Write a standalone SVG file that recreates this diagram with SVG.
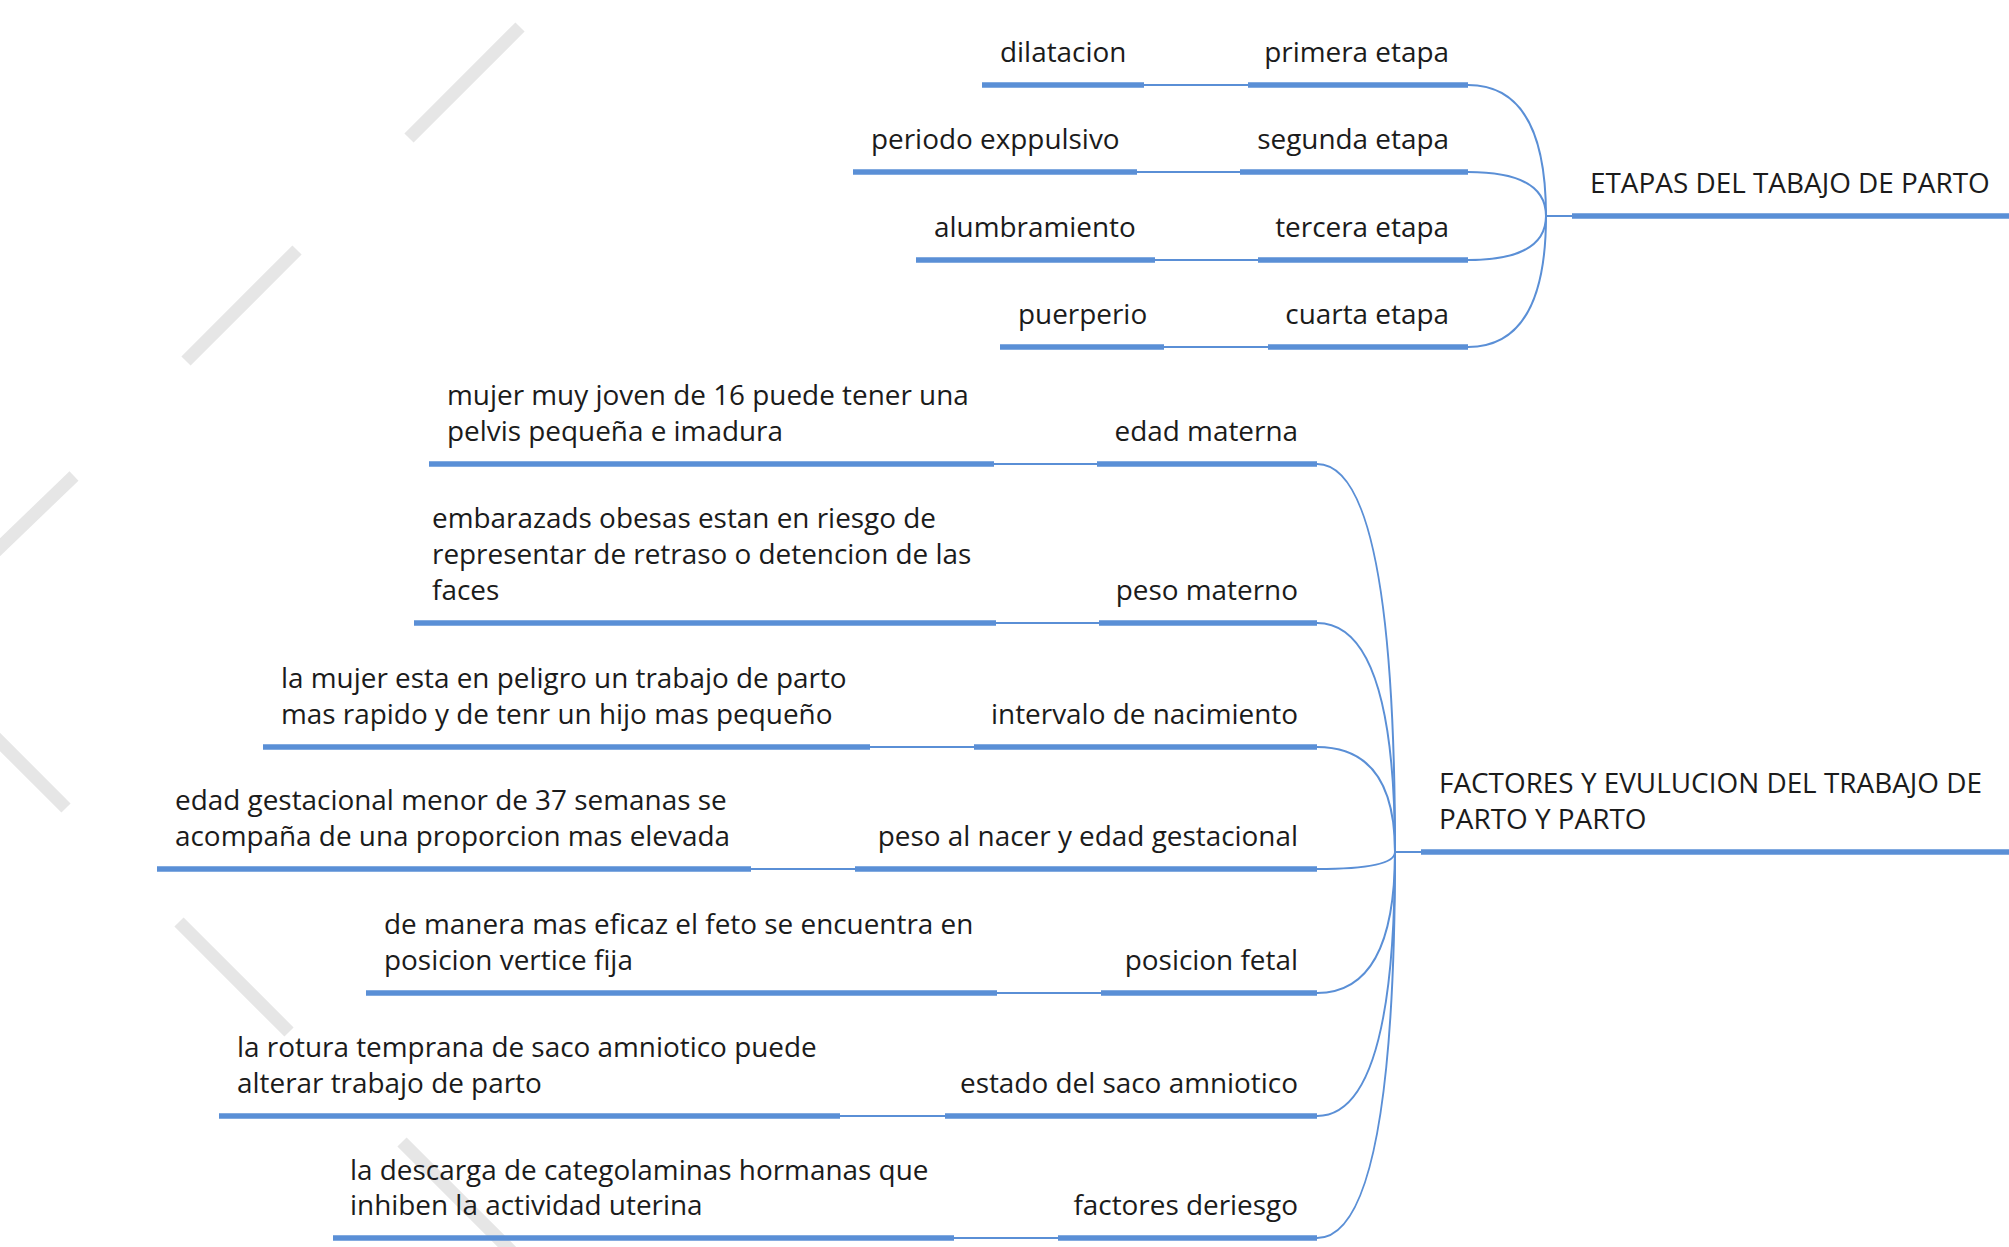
<svg xmlns="http://www.w3.org/2000/svg" width="2009" height="1247" viewBox="0 0 2009 1247">
<style>
text{font-family:"Open Sans","Noto Sans","Liberation Sans",sans-serif;font-size:27.9px;fill:#1b1b1b}
.u{stroke:#5a8fd6;stroke-width:5.5;fill:none}
.c{stroke:#5a8fd6;stroke-width:2;fill:none}
.w{stroke:#e6e6e6;stroke-width:13;fill:none}
.e{text-anchor:end}
</style>
<rect width="2009" height="1247" fill="#ffffff"/>
<g id="watermark">
<line class="w" x1="409" y1="138" x2="520" y2="27"/>
<line class="w" x1="186" y1="361" x2="297" y2="250"/>
<line class="w" x1="-5" y1="552" x2="74" y2="476"/>
<line class="w" x1="-5" y1="737" x2="66" y2="808"/>
<line class="w" x1="179" y1="922" x2="289" y2="1032"/>
<line class="w" x1="402" y1="1142" x2="512" y2="1252"/>
</g>
<g id="connectors">
<path class="c" d="M1546,216 H1572"/>
<path class="c" d="M1468,85 Q1546,85 1546,216"/>
<path class="c" d="M1468,172 Q1546,172 1546,216"/>
<path class="c" d="M1468,260 Q1546,260 1546,216"/>
<path class="c" d="M1468,347 Q1546,347 1546,216"/>
<path class="c" d="M1144,85 H1248"/>
<path class="c" d="M1137,172 H1240"/>
<path class="c" d="M1155,260 H1258"/>
<path class="c" d="M1164,347 H1268"/>
<path class="c" d="M1395,852 H1421"/>
<path class="c" d="M1317,464 Q1395,464 1395,852"/>
<path class="c" d="M1317,623 Q1395,623 1395,852"/>
<path class="c" d="M1317,747 Q1395,747 1395,852"/>
<path class="c" d="M1317,869 Q1395,869 1395,852"/>
<path class="c" d="M1317,993 Q1395,993 1395,852"/>
<path class="c" d="M1317,1116 Q1395,1116 1395,852"/>
<path class="c" d="M1317,1238 Q1395,1238 1395,852"/>
<path class="c" d="M994,464 H1097"/>
<path class="c" d="M996,623 H1099"/>
<path class="c" d="M870,747 H974"/>
<path class="c" d="M751,869 H855"/>
<path class="c" d="M997,993 H1101"/>
<path class="c" d="M840,1116 H945"/>
<path class="c" d="M954,1238 H1058"/>
</g>
<g id="etapas">
<line class="u" x1="1572" y1="216" x2="2009" y2="216"/>
<text x="1590" y="193">ETAPAS DEL TABAJO DE PARTO</text>
</g>
<g id="primera-etapa">
<line class="u" x1="1248" y1="85" x2="1468" y2="85"/>
<text class="e" x="1449" y="62">primera etapa</text>
</g>
<g id="dilatacion">
<line class="u" x1="982" y1="85" x2="1144" y2="85"/>
<text x="1000" y="62">dilatacion</text>
</g>
<g id="segunda-etapa">
<line class="u" x1="1240" y1="172" x2="1468" y2="172"/>
<text class="e" x="1449" y="149">segunda etapa</text>
</g>
<g id="periodo">
<line class="u" x1="853" y1="172" x2="1137" y2="172"/>
<text x="871" y="149">periodo exppulsivo</text>
</g>
<g id="tercera-etapa">
<line class="u" x1="1258" y1="260" x2="1468" y2="260"/>
<text class="e" x="1449" y="237">tercera etapa</text>
</g>
<g id="alumbramiento">
<line class="u" x1="916" y1="260" x2="1155" y2="260"/>
<text x="934" y="237">alumbramiento</text>
</g>
<g id="cuarta-etapa">
<line class="u" x1="1268" y1="347" x2="1468" y2="347"/>
<text class="e" x="1449" y="324">cuarta etapa</text>
</g>
<g id="puerperio">
<line class="u" x1="1000" y1="347" x2="1164" y2="347"/>
<text x="1018" y="324">puerperio</text>
</g>
<g id="factores">
<line class="u" x1="1421" y1="852" x2="2009" y2="852"/>
<text x="1439" y="793">FACTORES Y EVULUCION DEL TRABAJO DE</text>
<text x="1439" y="829">PARTO Y PARTO</text>
</g>
<g id="edad-materna">
<line class="u" x1="1097" y1="464" x2="1317" y2="464"/>
<text class="e" x="1298" y="441">edad materna</text>
</g>
<g id="edad-materna-desc">
<line class="u" x1="429" y1="464" x2="994" y2="464"/>
<text x="447" y="405">mujer muy joven de 16 puede tener una</text>
<text x="447" y="441">pelvis pequeña e imadura</text>
</g>
<g id="peso-materno">
<line class="u" x1="1099" y1="623" x2="1317" y2="623"/>
<text class="e" x="1298" y="600">peso materno</text>
</g>
<g id="peso-materno-desc">
<line class="u" x1="414" y1="623" x2="996" y2="623"/>
<text x="432" y="528">embarazads obesas estan en riesgo de</text>
<text x="432" y="564">representar de retraso o detencion de las</text>
<text x="432" y="600">faces</text>
</g>
<g id="intervalo">
<line class="u" x1="974" y1="747" x2="1317" y2="747"/>
<text class="e" x="1298" y="724">intervalo de nacimiento</text>
</g>
<g id="intervalo-desc">
<line class="u" x1="263" y1="747" x2="870" y2="747"/>
<text x="281" y="688">la mujer esta en peligro un trabajo de parto</text>
<text x="281" y="724">mas rapido y de tenr un hijo mas pequeño</text>
</g>
<g id="peso-nacer">
<line class="u" x1="855" y1="869" x2="1317" y2="869"/>
<text class="e" x="1298" y="846">peso al nacer y edad gestacional</text>
</g>
<g id="peso-nacer-desc">
<line class="u" x1="157" y1="869" x2="751" y2="869"/>
<text x="175" y="810">edad gestacional menor de 37 semanas se</text>
<text x="175" y="846">acompaña de una proporcion mas elevada</text>
</g>
<g id="posicion-fetal">
<line class="u" x1="1101" y1="993" x2="1317" y2="993"/>
<text class="e" x="1298" y="970">posicion fetal</text>
</g>
<g id="posicion-fetal-desc">
<line class="u" x1="366" y1="993" x2="997" y2="993"/>
<text x="384" y="934">de manera mas eficaz el feto se encuentra en</text>
<text x="384" y="970">posicion vertice fija</text>
</g>
<g id="saco">
<line class="u" x1="945" y1="1116" x2="1317" y2="1116"/>
<text class="e" x="1298" y="1093">estado del saco amniotico</text>
</g>
<g id="saco-desc">
<line class="u" x1="219" y1="1116" x2="840" y2="1116"/>
<text x="237" y="1057">la rotura temprana de saco amniotico puede</text>
<text x="237" y="1093">alterar trabajo de parto</text>
</g>
<g id="riesgo">
<line class="u" x1="1058" y1="1238" x2="1317" y2="1238"/>
<text class="e" x="1298" y="1215">factores deriesgo</text>
</g>
<g id="riesgo-desc">
<line class="u" x1="333" y1="1238" x2="954" y2="1238"/>
<text x="350" y="1180">la descarga de categolaminas hormanas que</text>
<text x="350" y="1215">inhiben la actividad uterina</text>
</g>
</svg>
